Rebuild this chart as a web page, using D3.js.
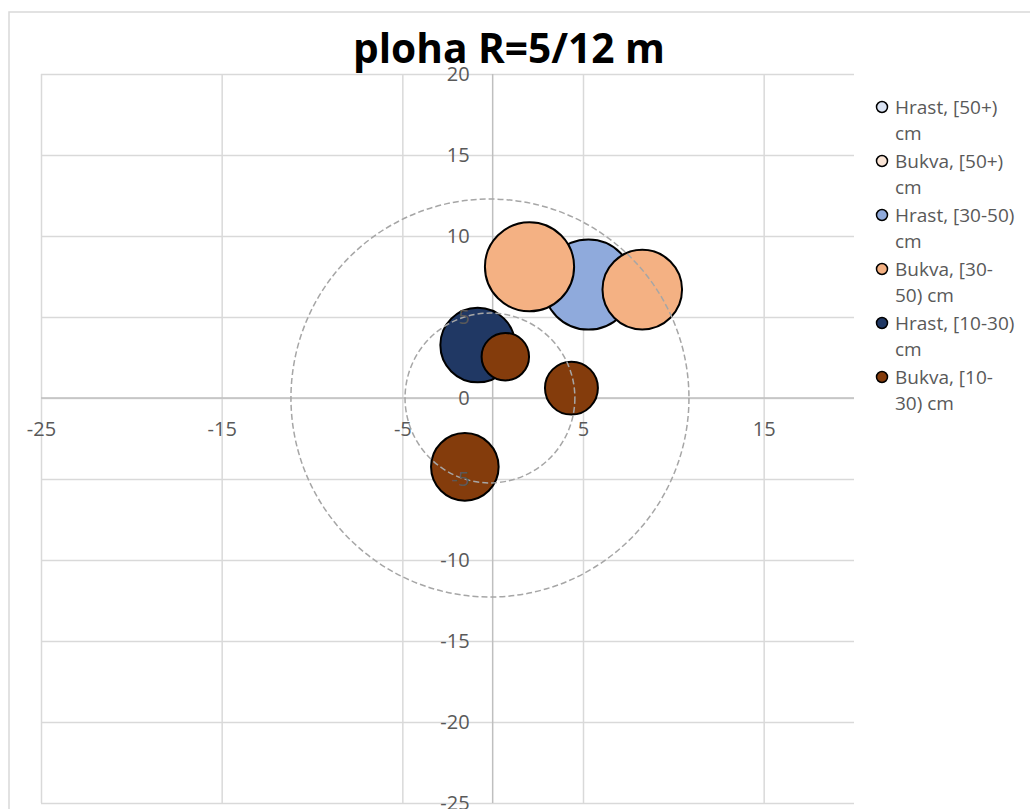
<!DOCTYPE html>
<html>
<head>
<meta charset="utf-8">
<script src="https://cdn.jsdelivr.net/npm/d3@7"></script>
<style>
  body { margin: 0; background: #fff; }
  svg { display: block; font-family: "Open Sans", "Noto Sans", sans-serif; }
</style>
</head>
<body>
<div id="chart"></div>
<script>
// series of the bubble chart (x, y in metres, size = bubble value)
var seriesNames = ["Hrast, [50+) cm", "Bukva, [50+) cm", "Hrast, [30-50) cm",
                   "Bukva, [30-50) cm", "Hrast, [10-30) cm", "Bukva, [10-30) cm"];
var legendLines = [["Hrast, [50+)", "cm"], ["Bukva, [50+)", "cm"], ["Hrast, [30-50)", "cm"],
                   ["Bukva, [30-", "50) cm"], ["Hrast, [10-30)", "cm"], ["Bukva, [10-", "30) cm"]];
var seriesColors = ["#dae3f3", "#fbe5d6", "#8faadc", "#f4b183", "#203864", "#843c0c"];

var hrast50 = [];
var bukva50 = [];
var hrast30 = [{ x: 5.30, y: 7.00, size: 50.0 }];
var bukva30 = [{ x: 2.04, y: 8.10, size: 49.1 }, { x: 8.28, y: 6.69, size: 39.1 }];
var hrast10 = [{ x: -0.83, y: 3.27, size: 34.4 }];
var bukva10 = [{ x: 0.70, y: 2.55, size: 13.9 }, { x: 4.36, y: 0.61, size: 17.3 },
               { x: -1.54, y: -4.25, size: 28.2 }];
var seriesData = [hrast50, bukva50, hrast30, bukva30, hrast10, bukva10];

// plot radii drawn as dashed rings
var ringRadii = [12, 5];

var xTicks = [-25, -15, -5, 5, 15];
var yTicks = [-25, -20, -15, -10, -5, 0, 5, 10, 15, 20];

document.addEventListener('DOMContentLoaded', function () {
    drawChart();
});

function drawChart() {
    var W = 1030, H = 809;
    var plot = { left: 41, top: 74, right: 854, bottom: 803 };

    var svg = d3.select("#chart").append("svg")
        .attr("width", W)
        .attr("height", H);

    // chart area border
    svg.append("rect")
        .attr("x", 9).attr("y", 12)
        .attr("width", W + 20).attr("height", H + 20)
        .attr("fill", "#fff")
        .attr("stroke", "#d9d9d9")
        .attr("stroke-width", 1.5);

    var x = d3.scaleLinear().domain([-25, 20]).range([plot.left, plot.right]);
    var y = d3.scaleLinear().domain([-25, 20]).range([plot.bottom, plot.top]);

    var allPoints = [].concat.apply([], seriesData);
    var size = d3.scaleSqrt()
        .domain([0, d3.max(allPoints, function (d) { return d.size; })])
        .range([0, 45]);

    // gridlines
    svg.append("g")
        .attr("class", "grid")
        .attr("transform", "translate(0," + plot.bottom + ")")
        .call(d3.axisBottom(x).tickValues(xTicks).tickSize(-(plot.bottom - plot.top)).tickFormat(""))
        .call(function (g) { g.select(".domain").remove(); })
        .selectAll("line")
        .attr("stroke", "#d9d9d9")
        .attr("stroke-width", 1.5);

    svg.append("g")
        .attr("class", "grid")
        .attr("transform", "translate(" + plot.left + ",0)")
        .call(d3.axisLeft(y).tickValues(yTicks).tickSize(-(plot.right - plot.left)).tickFormat(""))
        .call(function (g) { g.select(".domain").remove(); })
        .selectAll("line")
        .attr("stroke", "#d9d9d9")
        .attr("stroke-width", 1.5);

    // axis lines crossing at 0
    svg.append("line")
        .attr("x1", plot.left).attr("x2", plot.right)
        .attr("y1", y(0)).attr("y2", y(0))
        .attr("stroke", "#bfbfbf").attr("stroke-width", 1.5);
    svg.append("line")
        .attr("x1", x(0)).attr("x2", x(0))
        .attr("y1", plot.top).attr("y2", plot.bottom)
        .attr("stroke", "#bfbfbf").attr("stroke-width", 1.5);

    // bubbles, one group per series in legend order
    seriesData.forEach(function (data, i) {
        svg.append("g")
            .attr("class", "series")
            .selectAll("circle")
            .data(data)
            .enter()
            .append("circle")
            .attr("cx", function (d) { return x(d.x); })
            .attr("cy", function (d) { return y(d.y); })
            .attr("r", function (d) { return size(d.size); })
            .attr("fill", seriesColors[i])
            .attr("stroke", "#000")
            .attr("stroke-width", 2);
    });

    // dashed rings of the plot (centre at 0,0)
    var ringScale = d3.scaleLinear().domain([0, 12]).range([0, 199]);
    svg.append("g")
        .selectAll("circle")
        .data(ringRadii)
        .enter()
        .append("circle")
        .attr("cx", x(-0.15))
        .attr("cy", y(0))
        .attr("r", function (d) { return ringScale(d) + (d < 10 ? 2 : 0); })
        .attr("fill", "none")
        .attr("stroke", "#a6a6a6")
        .attr("stroke-width", 1.5)
        .attr("stroke-dasharray", "6,3");

    // tick labels (plain hyphen for negatives, like the original)
    var plain = function (d) { return String(d); };
    var xAxis = svg.append("g")
        .attr("transform", "translate(0," + y(0) + ")")
        .call(d3.axisBottom(x).tickValues(xTicks).tickSize(0).tickPadding(24).tickFormat(plain));
    var yAxis = svg.append("g")
        .attr("transform", "translate(" + x(0) + ",0)")
        .call(d3.axisLeft(y).tickValues(yTicks).tickSize(0).tickPadding(23).tickFormat(plain));
    [xAxis, yAxis].forEach(function (g) {
        g.select(".domain").remove();
        g.selectAll("text")
            .style("font-family", "'Open Sans', sans-serif")
            .style("font-size", "20px")
            .attr("fill", "#595959");
    });

    // title
    svg.append("text")
        .attr("x", 509)
        .attr("y", 63)
        .attr("text-anchor", "middle")
        .attr("textLength", 312)
        .attr("lengthAdjust", "spacingAndGlyphs")
        .style("font-size", "41px")
        .style("font-weight", "bold")
        .attr("fill", "#000")
        .text("ploha R=5/12 m");

    // legend
    var legend = svg.append("g")
        .attr("class", "legend")
        .attr("transform", "translate(882,107)");

    var item = legend.selectAll(".legend-item")
        .data(seriesNames)
        .enter()
        .append("g")
        .attr("class", "legend-item")
        .attr("transform", function (d, i) { return "translate(0," + (i * 54) + ")"; });

    item.append("circle")
        .attr("r", 5.5)
        .attr("fill", function (d, i) { return seriesColors[i]; })
        .attr("stroke", "#000")
        .attr("stroke-width", 1.5);

    item.append("text")
        .attr("x", 13)
        .attr("y", 0)
        .style("font-size", "19px")
        .attr("fill", "#595959")
        .selectAll("tspan")
        .data(function (d, i) { return legendLines[i]; })
        .enter()
        .append("tspan")
        .attr("x", 13)
        .attr("dy", function (d, j) { return j === 0 ? "0.35em" : "26px"; })
        .text(function (d) { return d; });
}
</script>
</body>
</html>
